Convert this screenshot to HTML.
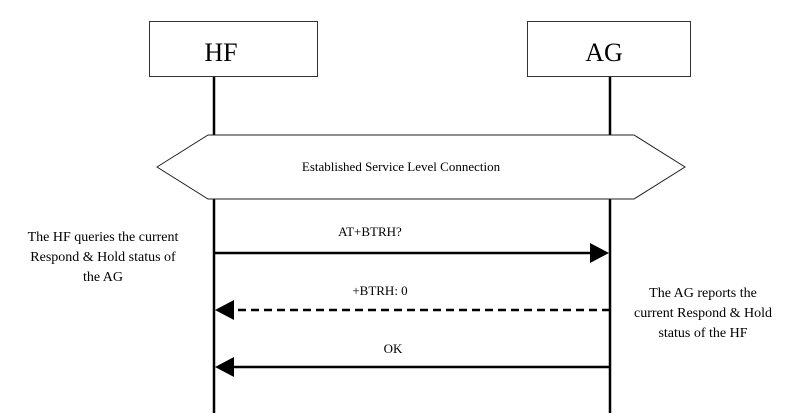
<!DOCTYPE html>
<html><head><style>
html,body{margin:0;padding:0;background:#fff;width:803px;height:418px;overflow:hidden}
</style></head><body>
<svg width="803" height="418" viewBox="0 0 803 418" xmlns="http://www.w3.org/2000/svg" font-family="Liberation Serif, serif" fill="#000">
<rect x="149.5" y="21.5" width="168" height="55" fill="#fff" stroke="#333" stroke-width="1"/>
<rect x="527.5" y="21.5" width="163" height="55" fill="#fff" stroke="#333" stroke-width="1"/>
<text x="221" y="61" font-size="26" text-anchor="middle">HF</text>
<text x="604" y="61" font-size="26" text-anchor="middle">AG</text>
<line x1="214" y1="77" x2="214" y2="413" stroke="#000" stroke-width="2.5"/>
<line x1="610" y1="77" x2="610" y2="413" stroke="#000" stroke-width="2.5"/>
<polygon points="157,167 208,135 634,135 685,167 634,199 208,199" fill="#fff" stroke="#222" stroke-width="1"/>
<text x="401" y="171" font-size="13" text-anchor="middle">Established  Service Level Connection</text>
<line x1="214" y1="253" x2="592" y2="253" stroke="#000" stroke-width="2.5"/>
<polygon points="609,253 590,243 590,263"/>
<line x1="610" y1="310" x2="232" y2="310" stroke="#000" stroke-width="2.5" stroke-dasharray="8,5"/>
<polygon points="215,310 234,300 234,320"/>
<line x1="610" y1="367" x2="232" y2="367" stroke="#000" stroke-width="2.5"/>
<polygon points="215,367 234,357 234,377"/>
<text x="370" y="236" font-size="13" text-anchor="middle">AT+BTRH?</text>
<text x="380" y="295" font-size="13" text-anchor="middle">+BTRH: 0</text>
<text x="393" y="353" font-size="13" text-anchor="middle">OK</text>
<g font-size="14" text-anchor="middle">
<text x="103" y="241">The HF queries the current</text>
<text x="103" y="261">Respond &amp; Hold status of</text>
<text x="103" y="281">the AG</text>
<text x="703" y="297">The AG reports the</text>
<text x="703" y="317">current Respond &amp; Hold</text>
<text x="703" y="337">status of the HF</text>
</g>
</svg>
</body></html>
